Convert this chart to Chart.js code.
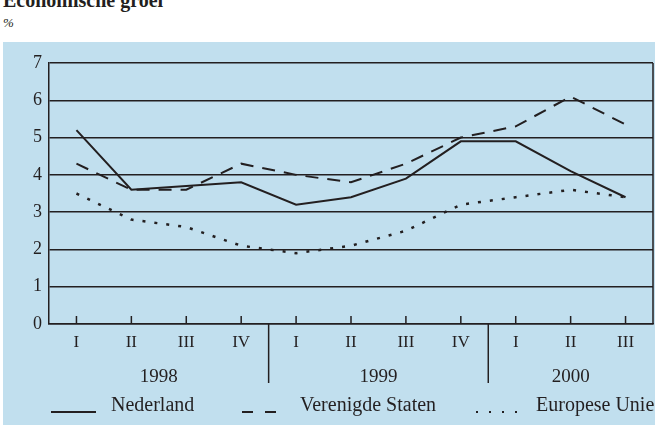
<!DOCTYPE html>
<html>
<head>
<meta charset="utf-8">
<script src="https://cdn.jsdelivr.net/npm/chart.js@4"></script>
<style>
    body { margin: 0; width: 655px; height: 425px; background: #fff; position: relative; overflow: hidden; font-family: "Liberation Serif", serif; color: #231f20; }
    #title { position: absolute; left: 3px; top: -11px; font-size: 20px; font-weight: bold; }
    #unit { position: absolute; left: 3px; top: 15px; font-size: 13px; font-style: italic; }
    #panel { position: absolute; left: 3px; top: 42px; width: 652px; height: 383px; background: #c1dfee; }
</style>
</head>
<body>
<div id="title">Economische groei</div>
<div id="unit">%</div>
<div id="panel"><canvas id="groeiChart" width="652" height="383"></canvas></div>
<script>
const quarters = ['I', 'II', 'III', 'IV', 'I', 'II', 'III', 'IV', 'I', 'II', 'III'];
const years = [
    { label: '1998', from: 0, to: 3 },
    { label: '1999', from: 4, to: 7 },
    { label: '2000', from: 8, to: 10 }
];
const nederland = [5.2, 3.6, 3.7, 3.8, 3.2, 3.4, 3.9, 4.9, 4.9, 4.1, 3.4];
const verenigdeStaten = [4.3, 3.6, 3.6, 4.3, 4.0, 3.8, 4.3, 5.0, 5.3, 6.1, 5.35];
const europeseUnie = [3.5, 2.8, 2.6, 2.1, 1.9, 2.1, 2.5, 3.2, 3.4, 3.6, 3.4];
const yTicks = [0, 1, 2, 3, 4, 5, 6, 7];

const ink = '#231f20';
const serif = '"Liberation Serif", serif';

// inward ticks, right frame, year separators and legend
const extras = {
    id: 'extras',
    afterDraw(chart) {
        const ctx = chart.ctx;
        const area = chart.chartArea;
        const x = chart.scales.x;
        ctx.save();
        ctx.strokeStyle = ink;
        ctx.lineWidth = 1.5;

        ctx.beginPath();
        ctx.moveTo(area.right, area.top);
        ctx.lineTo(area.right, area.bottom);
        quarters.forEach((q, i) => {
            const px = x.getPixelForValue(i);
            ctx.moveTo(px, area.bottom);
            ctx.lineTo(px, area.bottom - 8);
        });
        ctx.stroke();

        ctx.fillStyle = ink;
        ctx.font = '19px ' + serif;
        ctx.textAlign = 'center';
        ctx.textBaseline = 'middle';
        years.forEach((y, k) => {
            const a = x.getPixelForValue(y.from);
            const b = x.getPixelForValue(y.to);
            ctx.fillText(y.label, (a + b) / 2, area.bottom + 53);
            if (k > 0) {
                const sep = (x.getPixelForValue(y.from - 1) + a) / 2;
                ctx.beginPath();
                ctx.moveTo(sep, area.bottom);
                ctx.lineTo(sep, area.bottom + 59);
                ctx.stroke();
            }
        });

        // legend
        const ly = area.bottom + 82;
        ctx.textAlign = 'left';
        ctx.font = '20px ' + serif;
        chart.data.datasets.forEach((ds, i) => {
            const pos = [{ x0: 48, x1: 93, tx: 108 }, { x0: 239, x1: 273, tx: 297 }, { x0: 473, x1: 520, tx: 533 }][i];
            ctx.beginPath();
            ctx.lineWidth = 2;
            ctx.setLineDash(ds.legendDash || []);
            ctx.moveTo(pos.x0, ly + 6);
            ctx.lineTo(pos.x1, ly + 6);
            ctx.stroke();
            ctx.setLineDash([]);
            ctx.fillText(ds.label, pos.tx, ly);
        });
        ctx.restore();
    }
};

new Chart(document.getElementById('groeiChart'), {
    type: 'line',
    data: {
        labels: quarters,
        datasets: [
            { label: 'Nederland', data: nederland, borderColor: ink, borderWidth: 2, pointRadius: 0 },
            { label: 'Verenigde Staten', data: verenigdeStaten, borderColor: ink, borderWidth: 2, pointRadius: 0, borderDash: [13, 9], legendDash: [11, 12] },
            { label: 'Europese Unie', data: europeseUnie, borderColor: ink, borderWidth: 2.5, pointRadius: 0, borderDash: [3, 9], legendDash: [2, 11] }
        ]
    },
    options: {
        responsive: false,
        animation: false,
        layout: { padding: { top: 21, right: 2, left: 0, bottom: 0 } },
        plugins: { legend: { display: false }, tooltip: { enabled: false } },
        scales: {
            x: {
                offset: true,
                grid: { display: false, drawTicks: false },
                border: { color: ink, width: 1.5 },
                ticks: { color: ink, font: { family: serif, size: 17 }, padding: 8, maxRotation: 0, autoSkip: false },
                afterFit: s => { s.height = 101; }
            },
            y: {
                min: 0,
                max: 7,
                grid: { color: ink, lineWidth: 1.5, drawTicks: false },
                border: { color: ink, width: 1.5 },
                afterBuildTicks: s => { s.ticks = yTicks.map(v => ({ value: v })); },
                ticks: { color: ink, font: { family: serif, size: 18 }, padding: 7 },
                afterFit: s => { s.width = 46; }
            }
        }
    },
    plugins: [extras]
});
</script>
</body>
</html>
